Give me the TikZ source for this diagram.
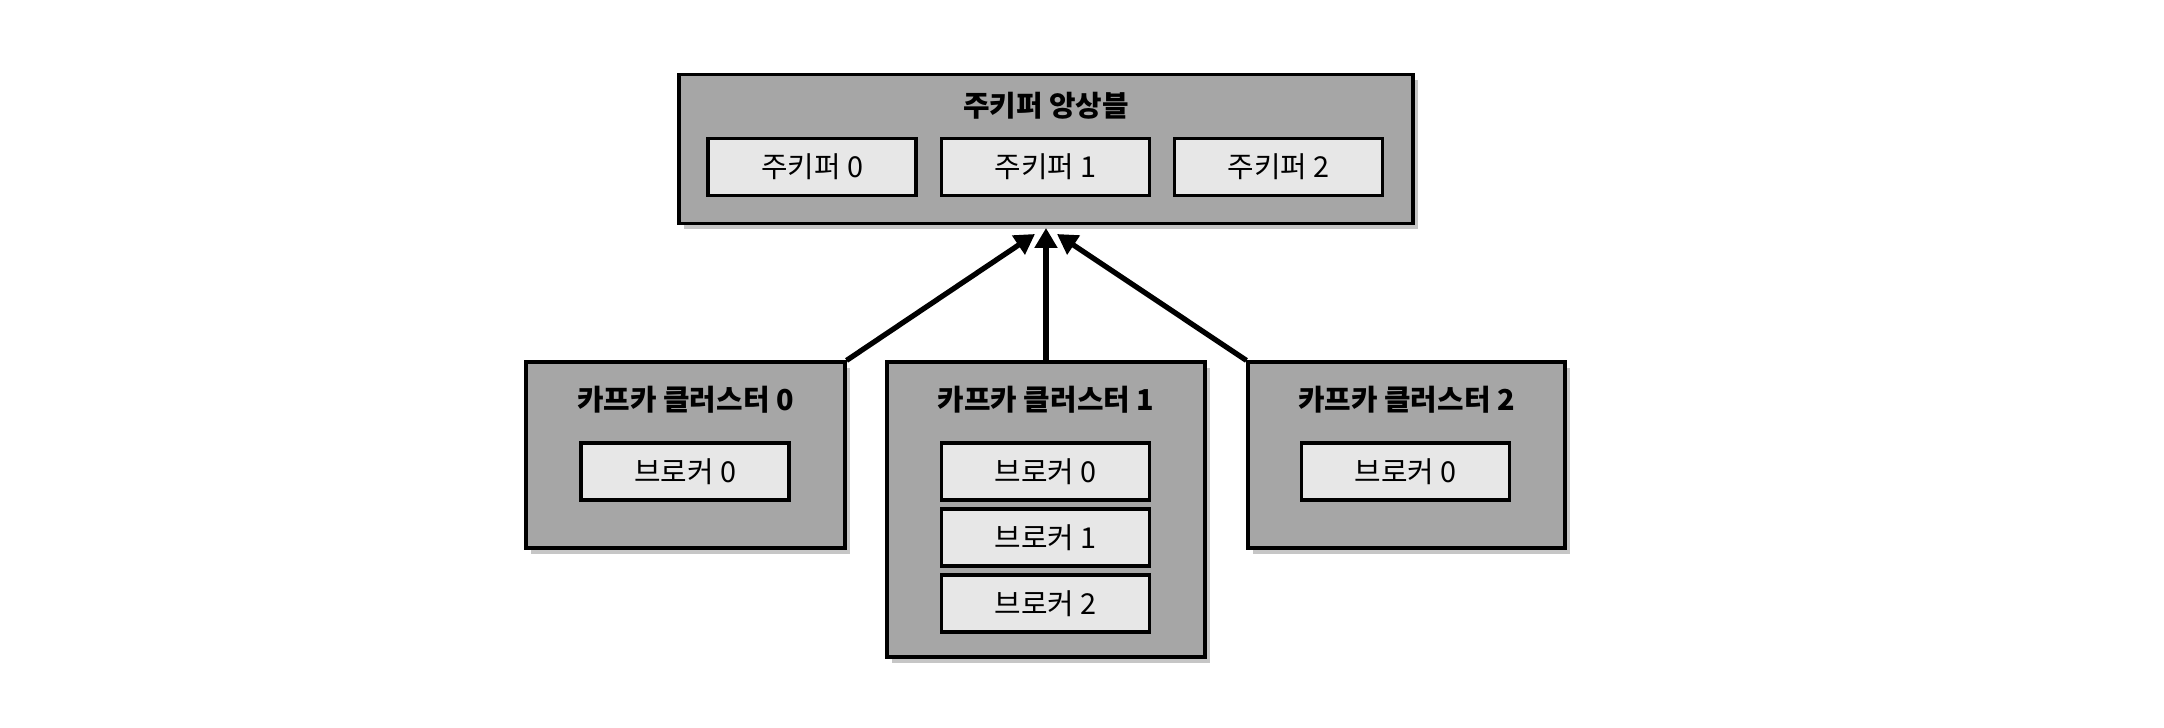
\documentclass[tikz,border=0pt]{standalone}
\usepackage{fontspec}
\setmainfont{Noto Sans CJK KR}
\usetikzlibrary{arrows.meta,shadows}
\definecolor{gris}{RGB}{166,166,166}
\definecolor{claro}{RGB}{231,231,231}
\begin{document}
\begin{tikzpicture}
\tikzset{
    grupo/.style={draw, line width=0.9pt, fill=gris, inner sep=0pt,
        drop shadow={shadow xshift=0.05, shadow yshift=-0.06, opacity=0.45}},
    caja/.style={draw, line width=0.9pt, fill=claro, inner sep=0pt,
        minimum width=2.08cm, minimum height=0.57cm, font=\fontsize{8.2}{9}\selectfont},
    etiqueta/.style={text centered, font=\bfseries\fontsize{8.2}{9}\selectfont},
    flecha/.style={line width=1.5pt, -{Triangle[length=0.2cm, width=0.22cm]}}
}
\useasboundingbox (0,0) rectangle (21.64,-7.28);
% ensemble
\node[grupo, minimum width=7.34cm, minimum height=1.49cm] (zk) at (10.46,-1.49) {};
\node[etiqueta] (zktit) at (10.46,-1.06) {주키퍼 앙상블};
\node[caja] (zk0) at (8.12,-1.67) {주키퍼 0};
\node[caja] (zk1) at (10.455,-1.67) {주키퍼 1};
\node[caja] (zk2) at (12.785,-1.67) {주키퍼 2};
% clusters
\node[grupo, minimum width=3.19cm, minimum height=1.86cm] (c0) at (6.855,-4.55) {};
\node[grupo, minimum width=3.18cm, minimum height=2.95cm] (c1) at (10.46,-5.095) {};
\node[grupo, minimum width=3.17cm, minimum height=1.86cm] (c2) at (14.065,-4.55) {};
\node[etiqueta] (c0tit) at (6.855,-4.0) {카프카 클러스터 0};
\node[etiqueta] (c1tit) at (10.46,-4.0) {카프카 클러스터 1};
\node[etiqueta] (c2tit) at (14.065,-4.0) {카프카 클러스터 2};
\node[caja] (c0b0) at (6.85,-4.715) {브로커 0};
\node[caja] (c1b0) at (10.455,-4.715) {브로커 0};
\node[caja] (c1b1) at (10.455,-5.375) {브로커 1};
\node[caja] (c1b2) at (10.455,-6.035) {브로커 2};
\node[caja] (c2b0) at (14.055,-4.715) {브로커 0};
% flechas
\coordinate (p0) at (10.35,-2.34);
\coordinate (p1) at (10.46,-2.28);
\coordinate (p2) at (10.57,-2.34);
\draw[flecha] (c0.north east) -- (p0);
\draw[flecha] (c1.north) -- (p1);
\draw[flecha] (c2.north west) -- (p2);
\end{tikzpicture}
\end{document}
